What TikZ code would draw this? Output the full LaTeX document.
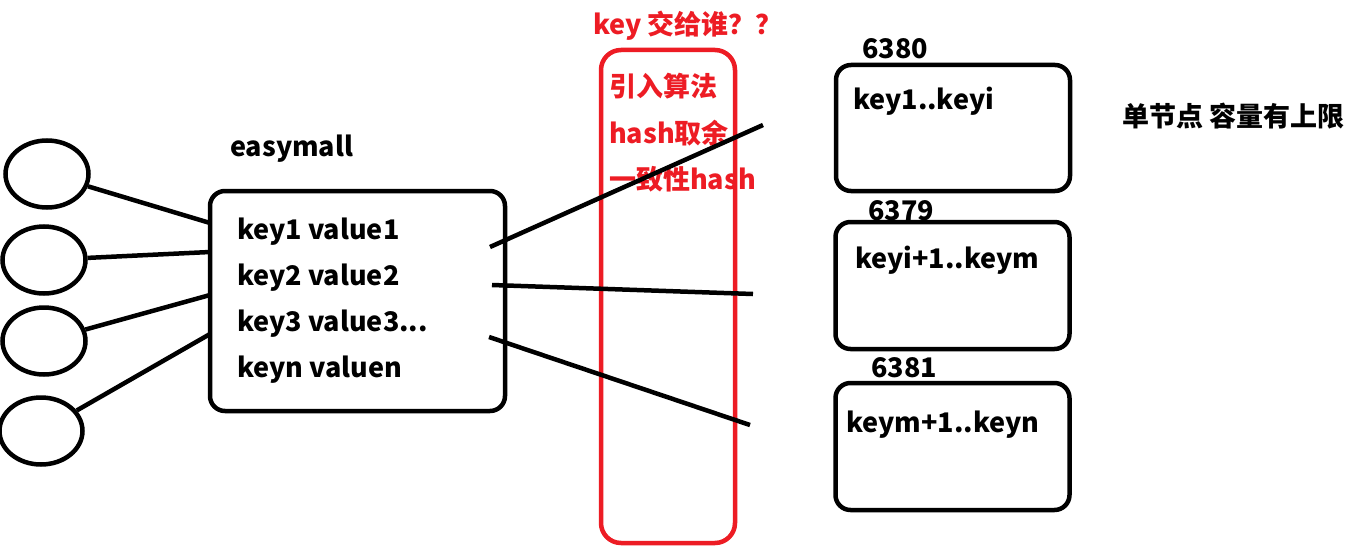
\documentclass[tikz,border=0pt]{standalone}
\usepackage{fontspec}
\setmainfont{Noto Sans CJK SC}
\usetikzlibrary{shapes.geometric}
\definecolor{pred}{RGB}{237,28,36}
\begin{document}
\begin{tikzpicture}[x=1pt,y=-1pt,
  blk/.style={line width=4.5pt,draw=black},
  oval/.style={blk,ellipse,minimum width=83pt,minimum height=67pt,inner sep=0pt},
  kbox/.style={blk,rectangle,rounded corners=15pt,inner sep=0pt},
  rbox/.style={line width=4.5pt,draw=pred,rectangle,rounded corners=20pt,inner sep=0pt,minimum width=134pt,minimum height=493pt},
  conn/.style={line width=4.5pt,draw=black},
  txt/.style={anchor=west,inner sep=0pt,font=\fontsize{27pt}{31pt}\selectfont\bfseries},
  rtxt/.style={txt,text=pred}]
\useasboundingbox (0,0) rectangle (1363,551);
\fill[white] (0,0) rectangle (1363,551);
% left ellipses
\node[oval] (e1) at (47,174) {};
\node[oval] (e2) at (44,260) {};
\node[oval] (e3) at (44,341) {};
\node[oval] (e4) at (41,431) {};
% main box
\node[kbox,minimum width=295pt,minimum height=220pt] (mb) at (357.5,301) {};
\node[txt] (easy) at (230,149) {easymall};
\node[txt] (k1) at (237,232) {key1 value1};
\node[txt] (k2) at (237,278) {key2 value2};
\node[txt] (k3) at (237,324) {key3 value3...};
\node[txt] (kn) at (237,370) {keyn valuen};
% connection points on main box
\coordinate (m1) at (210,223);
\coordinate (m2) at (210,252);
\coordinate (m3) at (210,295);
\coordinate (m4) at (210,334);
\draw[conn] (e1) -- (m1);
\draw[conn] (e2) -- (m2);
\draw[conn] (e3) -- (m3);
\draw[conn] (e4) -- (m4);
% red box
\node[rbox] (rb) at (668,296.5) {};
\node[rtxt] (q) at (593,26) {key 交给谁？？};
\node[rtxt] (a1) at (609,86) {引入算法};
\node[rtxt] (a2) at (609,133) {hash取余};
\node[rtxt] (a3) at (609,179) {一致性hash};
% outgoing lines
\coordinate (s1) at (490,247);
\coordinate (t1) at (763,125);
\coordinate (s2) at (492,285);
\coordinate (t2) at (753,294);
\coordinate (s3) at (489,337);
\coordinate (t3) at (750,425);
\draw[conn] (s1) -- (t1);
\draw[conn] (s2) -- (t2);
\draw[conn] (s3) -- (t3);
% right boxes
\node[kbox,minimum width=234pt,minimum height=126pt] (ba) at (953,128) {};
\node[kbox,minimum width=234pt,minimum height=127pt] (bb) at (952.5,285.5) {};
\node[kbox,minimum width=234pt,minimum height=127pt] (bc) at (952.5,446.5) {};
\node[txt] (p1) at (862,49) {6380};
\node[txt] (p2) at (868,211) {6379};
\node[txt] (p3) at (871,368) {6381};
\node[txt] (r1) at (853,101) {key1..keyi};
\node[txt] (r2) at (855,260) {keyi+1..keym};
\node[txt] (r3) at (846,425) {keym+1..keyn};
\node[txt] (lim) at (1122,116) {单节点 容量有上限};
\end{tikzpicture}
\end{document}
